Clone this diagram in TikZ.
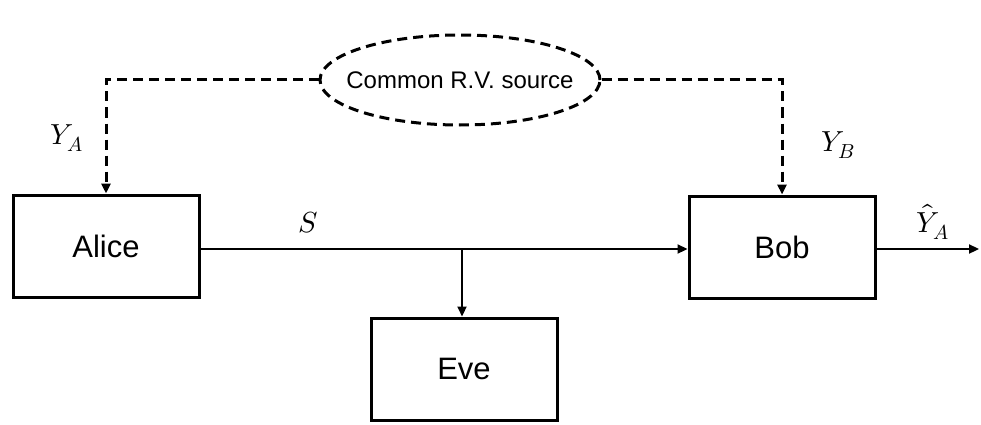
\documentclass[tikz,border=0pt]{standalone}
\usepackage{fontspec}
\setmainfont{Liberation Sans}
\usepackage{unicode-math}
\usetikzlibrary{shapes.geometric,arrows.meta}
\begin{document}
\begin{tikzpicture}[x=1pt,y=-1pt,
  party/.style={draw,line width=3pt,minimum width=186pt,minimum height=102pt,inner sep=0pt,font=\fontsize{31}{34}\selectfont},
  link/.style={line width=2.2pt,-{Triangle[length=10pt,width=9pt]}},
  shared/.style={line width=3pt,dash pattern=on 10pt off 6pt,-{Triangle[length=10pt,width=9pt]}},
  lbl/.style={font=\fontsize{29}{32}\selectfont}]
\useasboundingbox (0,0) rectangle (981,425);
% parties
\node[party] (alice) at (106,246) {Alice};
\node[party] (bob) at (782,247) {Bob};
\node[party] (eve) at (464,369) {Eve};
% shared randomness: outline and its caption set apart
\node[draw,ellipse,line width=3pt,dash pattern=on 10pt off 6pt,minimum width=280pt,minimum height=90pt,inner sep=0pt] (src) at (460,80) {};
\node[font=\fontsize{24}{28}\selectfont,inner sep=0pt] (srctext) at (src.center) {Common R.V. source};
\coordinate (ta) at (alice.north |- src.west);
\coordinate (tb) at (bob.north |- src.east);
\draw[shared] (src.west) -- (ta) -- (alice.north);
\draw[shared] (src.east) -- (tb) -- (bob.north);
% public channel
\coordinate (sa) at (alice.east |- 0,249);
\coordinate (sb) at (bob.west |- 0,249);
\coordinate (tap) at (462,249);
\coordinate (out) at (979,249);
\draw[link] (sa) -- (sb);
\draw[link] (tap) -- (tap |- eve.north);
\draw[link] (bob.east |- out) -- (out);
% labels
\node[lbl] (ya) at (67,138) {$Y_A$};
\node[lbl] (yb) at (838,145) {$Y_B$};
\node[lbl] (s) at (308,223) {$S$};
\node[lbl] (yh) at (933,222) {$\hat{Y}_A$};
\end{tikzpicture}
\end{document}
